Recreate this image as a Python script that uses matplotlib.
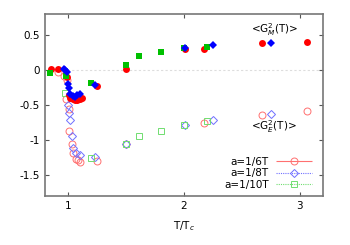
import numpy as np
import matplotlib
matplotlib.use("Agg")
from matplotlib import pyplot as plt
from matplotlib.ticker import FuncFormatter
from matplotlib.legend_handler import HandlerErrorbar
from matplotlib.container import ErrorbarContainer

# filled symbols: <G_M^2(T)>
gm6_x = [0.855, 0.91, 0.99, 1.01, 1.02, 1.04, 1.06, 1.08, 1.10, 1.12, 1.25, 1.50, 2.01, 2.175, 2.67, 3.06]
gm6_y = [0.01, 0.01, -0.10, -0.36, -0.40, -0.42, -0.43, -0.43, -0.42, -0.40, -0.23, 0.02, 0.30, 0.30, 0.39, 0.405]
gm8_x = [0.96, 0.975, 0.99, 1.00, 1.01, 1.02, 1.04, 1.06, 1.08, 1.10, 1.23, 2.01, 2.25, 2.75]
gm8_y = [0.02, 0.00, -0.03, -0.20, -0.25, -0.34, -0.37, -0.38, -0.36, -0.34, -0.21, 0.31, 0.36, 0.39]
gm10_x = [0.845, 0.98, 1.20, 1.50, 1.615, 1.80, 2.00, 2.20]
gm10_y = [-0.045, -0.09, -0.18, 0.07, 0.20, 0.26, 0.31, 0.33]

# open symbols: <G_E^2(T)>
ge6_x = [0.91, 0.96, 0.99, 0.98, 1.01, 1.01, 1.03, 1.045, 1.07, 1.085, 1.10, 1.25, 1.50, 2.17, 2.67, 3.06]
ge6_y = [-0.03, -0.08, -0.14, -0.42, -0.55, -0.87, -1.06, -1.19, -1.27, -1.29, -1.31, -1.30, -1.06, -0.75, -0.64, -0.59]
ge8_x = [1.00, 1.01, 1.015, 1.03, 1.045, 1.07, 1.10, 1.23, 1.50, 2.01, 2.25, 2.75]
ge8_y = [-0.50, -0.61, -0.72, -0.94, -1.12, -1.19, -1.21, -1.24, -1.06, -0.79, -0.71, -0.63]
ge10_x = [0.975, 1.20, 1.50, 1.615, 1.80, 2.00, 2.20]
ge10_y = [-0.33, -1.25, -1.06, -0.94, -0.87, -0.79, -0.73]

labels = ["a=1/6T", "a=1/8T", "a=1/10T"]

plt.rcParams["font.size"] = 7.5
fig = plt.figure(figsize=(3.5, 2.45), dpi=100)
ax = fig.add_axes([45 / 350, 1 - 196 / 245, 278 / 350, 182 / 245])

ax.axhline(0, color="#dddddd", lw=0.8, ls=(0, (2, 2)), zorder=0)

# electric (open)
ax.plot(ge6_x, ge6_y, "o", mfc="none", mec="#ff7070", ms=5, mew=0.7)
ax.plot(ge8_x, ge8_y, "D", mfc="none", mec="#7070ff", ms=4, mew=0.7)
ax.plot(ge10_x, ge10_y, "s", mfc="none", mec="#70dd70", ms=5, mew=0.7)

# magnetic (filled)
ax.plot(gm6_x, gm6_y, "o", color="#ff0000", ms=5, mew=0)
ax.plot(gm10_x, gm10_y, "s", color="#00c000", ms=5, mew=0)
ax.plot(gm8_x, gm8_y, "D", color="#0000ff", ms=4, mew=0)

ax.text(2.78, 0.58, r"<G$_M^2$(T)>", ha="center", va="center")
ax.text(2.78, -0.81, r"<G$_E^2$(T)>", ha="center", va="center")

# gnuplot-like key: error bar line with caps + open marker
handles = []
for col, mk, ms, ls in [("#ff7070", "o", 5, "-"), ("#7070ff", "D", 4, (0, (1, 1))),
                        ("#70dd70", "s", 5, (0, (1, 1)))]:
    h = ax.errorbar([], [], xerr=[], fmt=mk, mfc="none", mec=col, ecolor=col,
                    ms=ms, mew=0.7, elinewidth=0.8, capsize=2.5, capthick=0.8)
    h[2][0].set_linestyle(ls)
    handles.append(h)
ax.legend(handles, labels, handler_map={ErrorbarContainer: HandlerErrorbar(xerr_size=1.7, numpoints=1)},
          loc="lower right", frameon=False, markerfirst=False, handlelength=3.6,
          handletextpad=0.6, labelspacing=0.15, borderaxespad=0.2, bbox_to_anchor=(0.985, 0.0))

ax.set_xlim(0.8, 3.2)
ax.set_ylim(-1.8, 0.8)
ax.set_xticks([1, 2, 3])
ax.set_yticks([0.5, 0, -0.5, -1, -1.5])
ax.yaxis.set_major_formatter(FuncFormatter(lambda v, p: "%g" % v))
ax.xaxis.set_major_formatter(FuncFormatter(lambda v, p: "%g" % v))
ax.tick_params(direction="in", top=True, right=True, length=3, width=0.8, color="#555555")
for s in ax.spines.values():
    s.set_color("#777777")
    s.set_linewidth(1.2)
ax.set_xlabel(r"T/T$_c$", labelpad=6)

fig.savefig("out.png", dpi=100)
